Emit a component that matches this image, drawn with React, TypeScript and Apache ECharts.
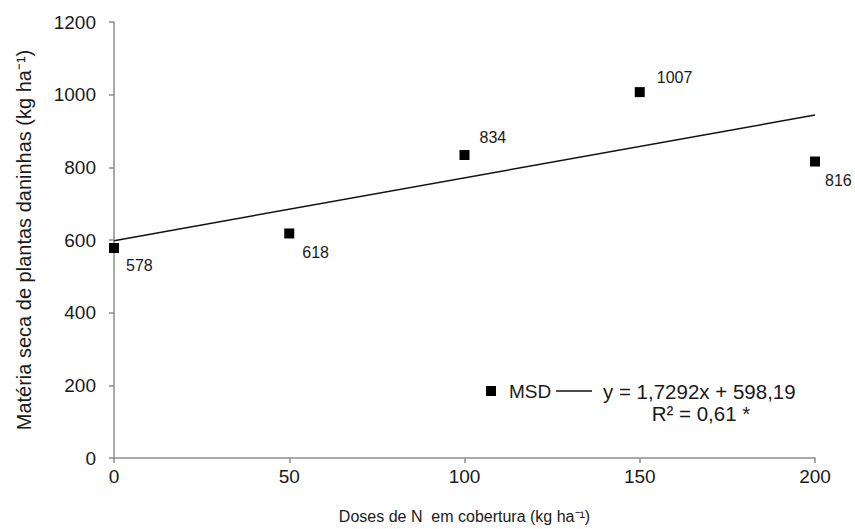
import React, { useEffect, useRef } from "react";
import * as echarts from "echarts";

const doses = [0, 50, 100, 150, 200];
const msd = [578, 618, 834, 1007, 816];
const labelOffsets = [[12, 18], [13, 19], [15, -17], [17, -15], [10, 19]];
const trendX = [0, 200];
const slope = 1.7292;
const intercept = 598.19;
const eqText = "y = 1,7292x + 598,19";
const r2Text = "R² = 0,61 *";
const seriesName = "MSD";

export default function App() {
  const ref = useRef<HTMLDivElement>(null);
  useEffect(() => {
    document.body.style.margin = "0";
    if (!ref.current) return;
    const chart = echarts.init(ref.current, undefined, { renderer: "svg" });
    const font = "Liberation Sans, Arial, sans-serif";
    const txt = "#1a1a1a";
    const axisColor = "#8c8c8c";
    chart.setOption({
      animation: false,
      textStyle: { fontFamily: font },
      grid: { left: 114, right: 40, top: 22, bottom: 69 },
      xAxis: {
        type: "value",
        min: 0,
        max: 200,
        interval: 50,
        name: "Doses de N  em cobertura (kg ha⁻¹)",
        nameLocation: "middle",
        nameGap: 50,
        nameTextStyle: { fontSize: 16, color: txt, fontFamily: font },
        axisLine: { lineStyle: { color: axisColor, width: 1.5 } },
        axisTick: { show: true, length: 5, lineStyle: { color: axisColor, width: 1.5 } },
        axisLabel: { fontSize: 19, color: txt, margin: 9, fontFamily: font, formatter: (v: number) => String(v) },
        splitLine: { show: false },
      },
      yAxis: {
        type: "value",
        min: 0,
        max: 1200,
        interval: 200,
        name: "Matéria seca de plantas daninhas (kg ha⁻¹)",
        nameLocation: "middle",
        nameGap: 80,
        nameTextStyle: { fontSize: 20, color: txt, fontFamily: font },
        axisLine: { show: true, lineStyle: { color: axisColor, width: 1.5 } },
        axisTick: { show: true, length: 5, lineStyle: { color: axisColor, width: 1.5 } },
        axisLabel: { fontSize: 19, color: txt, margin: 18, fontFamily: font, formatter: (v: number) => String(v) },
        splitLine: { show: false },
      },
      series: [
        {
          name: "trend",
          type: "line",
          data: trendX.map((x) => [x, slope * x + intercept]),
          symbol: "none",
          lineStyle: { color: "#111", width: 1.5 },
          z: 2,
        },
        {
          name: seriesName,
          type: "scatter",
          symbol: "rect",
          symbolSize: 10,
          itemStyle: { color: "#000", opacity: 1 },
          z: 3,
          data: doses.map((d, i) => ({
            value: [d, msd[i]],
            label: {
              show: true,
              position: "inside",
              align: "left",
              verticalAlign: "middle",
              offset: labelOffsets[i],
              formatter: String(msd[i]),
              fontSize: 16,
              color: txt,
              fontFamily: font,
            },
          })),
        },
      ],
      graphic: [
        { type: "rect", shape: { x: 486, y: 386, width: 10, height: 10 }, style: { fill: "#000" } },
        {
          type: "text",
          x: 509,
          y: 391,
          style: { text: seriesName, fill: txt, font: `19px ${font}`, verticalAlign: "middle" },
        },
        { type: "line", shape: { x1: 556, y1: 391, x2: 592, y2: 391 }, style: { stroke: "#111", lineWidth: 1.5 } },
        {
          type: "text",
          x: 603,
          y: 391,
          style: { text: eqText, fill: txt, font: `20.5px ${font}`, verticalAlign: "middle" },
        },
        {
          type: "text",
          x: 701,
          y: 413,
          style: { text: r2Text, fill: txt, font: `20.5px ${font}`, align: "center", verticalAlign: "middle" },
        },
      ],
    });
    return () => chart.dispose();
  }, []);
  return <div ref={ref} style={{ width: 855, height: 529 }} />;
}
